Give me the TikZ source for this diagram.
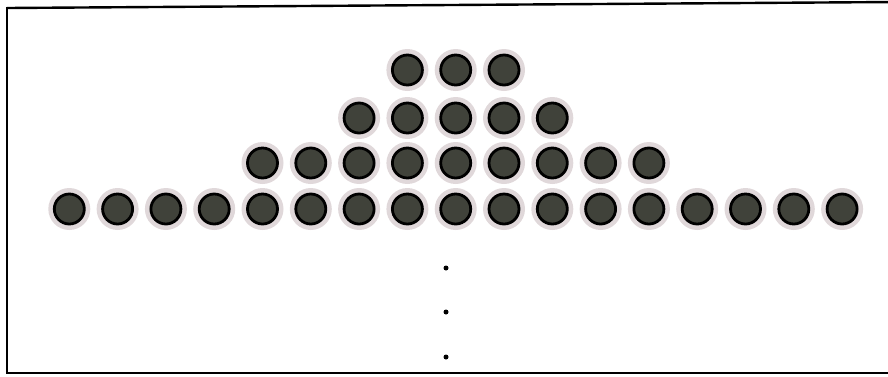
\documentclass[tikz,border=0pt]{standalone}
\usepackage{tikz}

\definecolor{ringgray}{RGB}{224,216,218}
\definecolor{balldark}{RGB}{64,66,58}

\tikzset{
  ball/.style={circle, fill=balldark, draw=black, line width=2.8pt, minimum size=30pt, inner sep=0pt},
  halo/.style={circle, fill=ringgray, minimum size=42pt, inner sep=0pt},
  vdot/.style={circle, fill=black, minimum size=5pt, inner sep=0pt}
}

\begin{document}
\begin{tikzpicture}[x=1pt, y=-1pt]
  \useasboundingbox (0,0) rectangle (888,376);
  % frame
  \draw[line width=2.4pt] (7,7) -- (7,373) -- (895,373);
  \draw[line width=2.4pt] (7,8) -- (895,2);

  % rows of balls: column k sits at 69.3 + 48.3 k
  \foreach \row/\y/\from/\to in {1/70/7/9, 2/118/6/10, 3/163/4/12, 4/209/0/16}{
    \foreach \k in {\from,...,\to}{
      \node[halo] at ({69.3+48.3*\k},\y) {};
      \node[ball] (b\row-\k) at ({69.3+48.3*\k},\y) {};
    }
  }

  % continuation dots
  \node[vdot] (d1) at (446,268) {};
  \node[vdot] (d2) at (446,312) {};
  \node[vdot] (d3) at (446,357) {};
\end{tikzpicture}
\end{document}
